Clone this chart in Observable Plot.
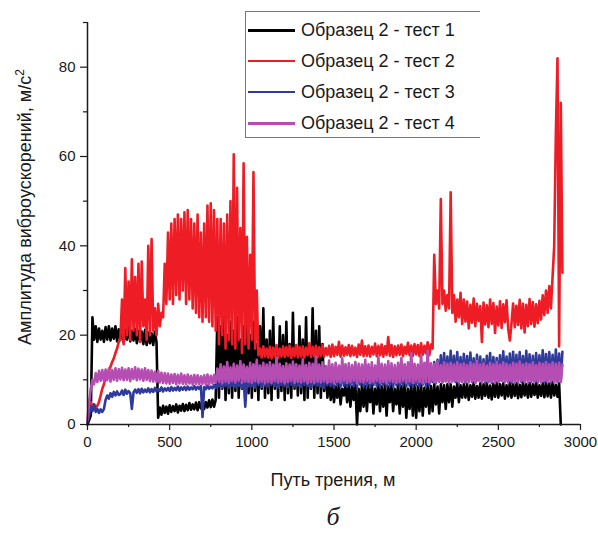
<!DOCTYPE html>
<html><head><meta charset="utf-8">
<script src="https://cdn.jsdelivr.net/npm/d3@7"></script>
<script src="https://cdn.jsdelivr.net/npm/@observablehq/plot@0.6"></script>
<style>
body{margin:0;background:#fff;}
#wrap{position:relative;width:598px;height:535px;font-family:"Liberation Sans",Arial,sans-serif;color:#1a1a1a;overflow:hidden;}
#legend{position:absolute;left:245px;top:11px;width:235px;height:127px;border:1px solid #777;border-right:none;background:#fff;box-sizing:border-box;}
.row{position:absolute;left:2px;height:22px;display:flex;align-items:center;font-size:18px;white-space:nowrap;}
.sw{width:47px;margin-right:6px;}
.ytitle{position:absolute;left:25px;top:207px;transform:translate(-50%,-50%) rotate(-90deg);font-size:18px;white-space:nowrap;}
.xtitle{position:absolute;left:333px;top:480px;transform:translate(-50%,-50%);font-size:18px;white-space:nowrap;}
.cap{position:absolute;left:333px;top:517px;transform:translate(-50%,-50%);font-family:"Liberation Serif","DejaVu Serif",serif;font-style:italic;font-size:26px;}
</style></head>
<body>
<div id="wrap"></div>
<script>
// Distance samples (m), every 10 m
const distance = Array.from({length: 290}, (_, i) => i * 10);

const seriesNames = ["Образец 2 - тест 1", "Образец 2 - тест 2", "Образец 2 - тест 3", "Образец 2 - тест 4"];
const seriesColors = ["#000000", "#ee1c25", "#2e3a9c", "#b64db3"];

const xMajor = [0, 500, 1000, 1500, 2000, 2500, 3000];
const xMinor = [250, 750, 1250, 1750, 2250, 2750];
const yMajor = [0, 20, 40, 60, 80];
const yMinor = [10, 30, 50, 70, 90];

const test1 = [
0,1,2,24,19,22,18.5,21.5,19,21,
18.5,21.8,19,22,18.8,21.5,19.2,22,18.6,21.3,
19,21.6,18.4,21.2,19,21.8,18.6,21,18.8,21.4,
18.2,21,18.6,20.8,18,21.2,17.8,20.6,18.2,20.4,
17.8,20.8,18.4,1.5,3.8,2.2,4.2,2.6,4,2.4,
4.3,2.8,4.1,3,4.5,2.7,4.2,3.1,4.6,3,
4.4,3.2,4.8,3.3,4.5,3.4,4.9,3.2,5,3.6,
5.2,3.5,5,3.8,5.4,3.9,5.6,4,5.5,24,
6,22,8,25,5.5,20,7,23,6,21,
7.5,24,6,19,8,22,5.5,25,7,20,
6,23,7.5,18,5.5,22,8,26,6,19,
7,21,5.5,24,8,17,6,22,7.5,20,
5.5,23,7,18,6,25,8,16,6.5,22,
7,19,5.5,24,6,17,8,26,6,21,
7,22,6,18,7.5,13,6,10,5.5,9,
5,8.5,6,9,4.5,8,6.5,8.8,5,9,
4,8.5,5.5,9,0,8,3,9,4,8.6,
3,8.8,5,9,2.5,8,4.5,9.2,3,8.5,
4,9,2,8.5,5,9,3,8,4.5,9,
2.5,8.6,4,9.2,1.5,8,3.5,9,2,8.8,
1.5,8.5,3,9,2,8.2,4,9,2.5,8.6,
3,9,4.5,8.5,2.5,9,5,8.8,3.5,9,
5,9,4,8.5,6,9.2,5,8.8,6,9,
6,9,5.5,8.8,6.2,9.4,5.8,8.6,6,9.2,
5.8,9,6.4,9.3,6,8.7,5.6,9.1,6.2,9.4,
6,9,6.5,9.2,5.8,8.8,6.3,9.5,6,9,
6.4,9.2,5.9,8.9,6.1,9.4,6.5,9,6,9.3,
6.2,9,6.6,9.5,6,8.8,6.4,9.2,6.1,9.4,
6.3,9.1,6,9.5,6.5,8.9,6.2,9.2,0,null
];

const test2 = [
null,null,5,3.5,4.5,3.8,4.2,5,6.5,8,
9,10.5,11.5,12,13,14,14.8,16,17,18.5,
19,28,18,35,20,32,19,37,21,33,
20,36,18.5,36.5,22,28,19,40,20,41.5,
21,26,20,27,22,25,24,36,27,43,
28,45,27,46,29,47,28,46,30,47.5,
27,48,28,46,26,45,25,47,24,43,
23,45,24,49,23,49.5,22,48,21,46,
18,46,20,45,17,47,19,50,18,60.5,
17,53,19,44,16,58.5,18,42,17,38,
19,56.5,17,30,15.5,17,15,17.5,15.2,17,
15,17.4,14.8,17.2,15.3,17.8,14.9,17,15.2,17.5,
15.1,17.3,15.4,17.6,14.9,17.1,15.3,17.8,15,17.4,
15.2,17.5,15,17.2,15.5,18.2,15.1,17.4,15.3,17.6,
15,17.3,15.4,17.8,15.2,17.1,15.5,17.6,15.1,17.9,
15.3,17.4,15.6,18.5,15.2,17.7,15.4,17.3,15.6,17.8,
15.3,17.6,15.5,17.2,15.1,17.9,15.6,18.8,15.3,17.5,
15.4,17.7,15.2,17.4,15.7,18.1,15.3,17.6,15.5,17.9,
15.2,17.5,15.6,19.6,15.4,17.8,15.1,17.5,15.5,17.7,
15.6,17.9,15.3,17.4,15.8,18.3,15.5,17.7,15.4,18,
15.7,17.8,15.3,18.2,15.6,17.6,15.9,18.4,15.5,17.9,
17,38,27,30,26,50.5,27,30,25.5,29,
26,52,25,29,23,28,24,29.5,22.5,28,
23,27.5,21.5,26.8,22.8,28.2,22,27,23.2,26.5,
18.5,27.3,22.4,26.7,21.8,28,22.5,27.2,20.5,26.4,
22.2,27.6,21.6,26.9,22.9,27.8,21.4,18.8,22.6,27.1,
21.8,26.6,22.3,27.9,21.5,27,20.6,26.8,22,28.1,
22.5,27.4,21.9,26.9,22.7,27.7,23.5,28.9,24.5,30,
25,31,26,33,40,65,82,17.5,72,34
];

const test3 = [
0.5,2,4,3,4.5,2.8,3.5,2.6,3.4,2.8,
3.5,5.5,6.5,5.8,7,6.2,7.3,6.5,7.4,6.6,
6.8,7.6,6.6,7.8,6.9,7.5,7,3.5,7.2,7.8,
7.1,7.9,7,8,7.2,7.8,7.3,8.1,7.2,7.9,
7.3,8.2,7.4,8,7.5,8.3,7.4,8.1,7.6,8.2,
7.5,8.4,7.6,8.2,7.7,8.5,7.6,8.3,7.8,8.4,
7.7,8.5,7.8,8.3,7.9,8.6,7.8,8.4,8,8.6,
1.7,8.4,7.9,8.7,8,8.5,8.1,8.8,8.2,9,
8.5,10,8.2,9.5,8.6,10.2,8.3,9.8,8.7,10,
8.4,10.1,8.6,9.6,8.2,10.3,4,9.9,8.5,10.2,
8.6,11.5,8.3,12,8.8,11.2,8.4,12.5,8.7,11.8,
8.5,12.2,8.9,13.5,8.6,12,8.3,12.7,8.8,11.6,
8.6,12.3,8.4,12.8,8.9,11.9,8.5,12.6,8.7,12.1,
8.4,12.5,8.8,12,8.6,12.9,8.3,12.2,8.9,12.4,
8.7,12.1,8.5,12.7,8.2,12.3,8.8,12.9,8.6,12,
8.3,12.6,8.9,12.2,8.5,12.8,8.7,12.1,8.4,12.5,
8.8,12.3,8.6,12.9,8.4,12.2,8.9,12.6,8.5,12.4,
8.7,12.8,8.3,12.1,8.8,12.5,8.6,13,8.4,12.3,
8.9,12.6,8.5,12.2,8.7,12.9,8.4,12.4,8.8,12.7,
8.6,12.3,8.9,13.1,8.5,12.6,8.7,12.2,8.4,12.9,
8.8,12.5,8.6,13.2,8.9,12.7,8.5,13.4,8.8,13,
9.5,14,9.2,14.5,9.6,15.5,9.4,16,9.7,15.2,
9.3,16.5,9.8,15.4,9.5,16.2,9.2,15.1,9.6,15.8,
9.4,15.3,9.7,16.1,9.5,14.8,9.3,15.6,9.8,15.2,
9.5,14.6,9.4,15.4,9.6,16,9.3,15.1,9.7,14.9,
9.4,15.5,9.8,16.4,9.5,15.2,9.6,15.9,9.3,16.3,
9.7,15.6,9.4,16.2,9.6,15.3,9.5,16.5,9.8,15.7,
9.5,15.4,9.7,16,9.4,15.5,9.6,16.6,9.5,15.8,
9.6,16.2,9.4,15.6,9.7,16.8,9.5,15.9,9.8,16.3
];

const test4 = [
1,5,8,10,9,11.5,9.5,12,9.8,12.2,
9.7,12.3,9.9,12.5,9.6,12.2,10,12.6,9.8,12.4,
10.1,12.7,9.9,12.3,10,12.6,9.7,12.4,10.2,12.8,
9.9,12.5,10.1,12.3,9.8,12.6,10,12.2,9.7,12.1,
9.6,11.8,9.5,12,9.4,11.6,9.3,11.5,9.2,11.4,
9.1,11.2,9.3,11.3,9,11.1,9.2,11.4,9.1,11,
9,11.2,9.2,10.9,8.9,11.1,9.1,11,9,10.8,
9.1,11,8.9,11.2,9,10.9,9.2,11.1,9.3,12.5,
9.5,13.5,9.2,13,9.6,14,9.3,12.8,9.7,13.6,
9.4,13.2,9.8,14.2,9.3,13.4,9.6,12.9,9.5,13.8,
9.3,13.5,9.7,14.5,9.4,13.2,9.6,13.8,9.2,13.4,
9.5,13.9,9.3,13.3,9.7,15,9.4,13.6,9.6,13.1,
9.2,13.7,9.5,13.4,9.8,14.1,9.3,13.5,9.6,13.2,
9.4,14.6,9.7,13.3,9.2,13.8,9.5,13.6,9.3,15.2,
9.6,13.4,9.4,13.9,9.7,13.1,9.3,14.3,9.5,13.5,
9.2,13.8,9.6,13.2,9.4,14.8,9.7,13.5,9.3,13.7,
9.5,13.3,9.8,14,9.2,13.6,9.6,13.4,9.4,14.5,
9.7,13.5,9.3,13.9,9.5,13.2,9.8,15.1,9.4,13.6,
9.6,13.4,9.2,14.2,9.7,13.7,9.5,13.3,9.3,13.8,
9.5,14.9,9.8,13.5,9.4,13.9,9.6,16,9.3,13.6,
9.7,13.4,9.5,15.5,9.2,13.8,9.6,16.5,9.4,13.7,
9.8,13.5,9.4,14.1,9.6,13.3,9.5,13.9,9.7,13.6,
9.3,13.8,9.6,13.4,9.8,14,9.4,13.5,9.5,13.7,
9.7,13.3,9.4,13.9,9.6,13.6,9.3,14.2,9.8,13.4,
9.5,13.7,9.7,13.2,9.4,13.8,9.6,13.5,9.3,14,
9.6,13.4,9.8,13.9,9.5,13.6,9.4,13.3,9.7,13.8,
9.3,13.6,9.6,14.1,9.8,13.4,9.5,13.7,9.4,13.5,
9.7,13.9,9.5,13.3,9.6,13.8,9.4,13.6,9.8,14,
9.5,13.5,9.7,13.9,9.4,13.6,9.6,13.8,9.5,13.4
];

const allSeries = [test1, test2, test3, test4];
const rows = allSeries.flatMap((vals, k) =>
  distance.map((d, i) => ({x: d, y: vals[i], s: seriesNames[k]})));

const chart = Plot.plot({
  width: 598, height: 535,
  marginLeft: 87, marginRight: 18, marginTop: 22, marginBottom: 111,
  style: {fontFamily: '"Liberation Sans", Arial, sans-serif', fontSize: "15px", color: "#1a1a1a", background: "transparent"},
  x: {domain: [0, 3000]},
  y: {domain: [0, 90]},
  color: {domain: seriesNames, range: seriesColors},
  marks: [
    ...seriesNames.map(name => Plot.line(rows.filter(r => r.s === name), {
      x: "x", y: "y", stroke: "s", strokeWidth: 2.6, defined: r => r.y != null
    })),
    Plot.axisY(yMajor, {tickSize: 7, tickPadding: 5, tickFormat: d => String(d), label: null, fontSize: 15, strokeWidth: 1.2}),
    Plot.axisY(yMinor, {tickSize: 4, tickFormat: () => "", label: null, strokeWidth: 1.2}),
    Plot.axisX(xMajor, {tickSize: 6, tickPadding: 6, tickFormat: d => String(d), label: null, fontSize: 15, strokeWidth: 1.2}),
    Plot.axisX(xMinor, {tickSize: 3, tickFormat: () => "", label: null, strokeWidth: 1.2}),
    Plot.ruleX([0], {strokeWidth: 1.5}),
    Plot.ruleY([0], {strokeWidth: 1.5})
  ]
});

const wrap = document.getElementById("wrap");
wrap.appendChild(chart);
chart.style.position = "absolute"; chart.style.left = "0"; chart.style.top = "0";

const yt = document.createElement("div");
yt.className = "ytitle";
yt.innerHTML = "Амплитуда виброускорений, м/с<sup style='font-size:12px;vertical-align:7px;line-height:0'>2</sup>";
wrap.appendChild(yt);

const xt = document.createElement("div");
xt.className = "xtitle"; xt.textContent = "Путь трения, м";
wrap.appendChild(xt);

const cap = document.createElement("div");
cap.className = "cap"; cap.textContent = "б";
wrap.appendChild(cap);

const legend = document.createElement("div");
legend.id = "legend";
const rowCenters = [18, 49, 80, 111];
const swWidths = [3, 2, 1.5, 3];
seriesNames.forEach((name, k) => {
  const r = document.createElement("div");
  r.className = "row";
  r.style.top = (rowCenters[k] - 11) + "px";
  const sw = document.createElement("span");
  sw.className = "sw";
  sw.style.height = swWidths[k] + "px";
  sw.style.background = seriesColors[k];
  const t = document.createElement("span");
  t.textContent = name;
  r.appendChild(sw); r.appendChild(t);
  legend.appendChild(r);
});
wrap.appendChild(legend);
</script>
</body></html>
